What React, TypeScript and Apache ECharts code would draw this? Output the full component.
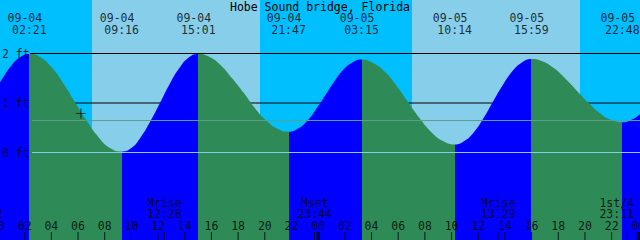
import React, { useEffect, useRef } from "react";
import * as echarts from "echarts";

// ---------- data ----------
const TITLE = "Hobe Sound bridge, Florida";

const tideDates = ["09-04", "09-04", "09-04", "09-04", "09-05", "09-05", "09-05", "09-05"];
const tideTimes = ["02:21", "09:16", "15:01", "21:47", "03:15", "10:14", "15:59", "22:48"];
const tideKinds = ["H", "L", "H", "L", "H", "L", "H", "L"];

// curve samples: hours since 09-04 00:00, height in feet
const curveHours = [
  -1.0, -0.33, 0.34, 1.01, 1.68, 2.35,
  3.21, 4.08, 4.94, 5.81, 6.67, 7.54, 8.4, 9.27,
  9.99, 10.7, 11.42, 12.14, 12.86, 13.58, 14.3, 15.02,
  15.86, 16.71, 17.55, 18.4, 19.25, 20.09, 20.94, 21.78,
  22.47, 23.15, 23.83, 24.52, 25.2, 25.88, 26.57, 27.25,
  28.12, 29.0, 29.87, 30.74, 31.61, 32.49, 33.36, 34.23,
  34.95, 35.67, 36.39, 37.11, 37.83, 38.55, 39.27, 39.98,
  40.84, 41.69, 42.54, 43.39, 44.24, 45.1, 45.95, 46.8,
  47.49, 48.18, 48.86,
];
const curveFeet = [
  0.89, 1.2, 1.5, 1.76, 1.93, 1.99,
  1.92, 1.7, 1.38, 1.0, 0.63, 0.31, 0.09, 0.02,
  0.09, 0.31, 0.63, 1.0, 1.38, 1.7, 1.92, 1.99,
  1.93, 1.76, 1.5, 1.21, 0.9, 0.65, 0.48, 0.42,
  0.48, 0.63, 0.87, 1.15, 1.43, 1.67, 1.82, 1.88,
  1.81, 1.63, 1.35, 1.02, 0.69, 0.41, 0.23, 0.16,
  0.23, 0.41, 0.69, 1.03, 1.36, 1.64, 1.82, 1.89,
  1.84, 1.7, 1.49, 1.25, 1.01, 0.8, 0.66, 0.61,
  0.66, 0.79, 0.98,
];

const sunriseAt = ["09-04 07:03", "09-05 07:02"];
const sunsetAt = ["09-04 19:38", "09-05 19:38"];

const moonDates = ["09-03", "09-04", "09-04", "09-05", "09-05"];
const moonNames = ["Mset", "Mrise", "Mset", "Mrise", "1st/4"];
const moonTimes = ["23:02", "12:28", "23:44", "13:29", "23:11"];

const levelValues = [0, 1, 2];
const levelLabels = ["0 ft", "1 ft", "2 ft"];
const gridLevels = [1, 2];
const datumLevel = 0;
const mslLevel = 0.646;

const markAt = "09-04 06:13";
const markFeet = 0.79;

const tickHours = [0, 2, 4, 6, 8, 10, 12, 14, 16, 18, 20, 22, 24, 26, 28, 30, 32, 34, 36, 38, 40, 42, 44, 46, 48];
const tickLabels = ["00", "02", "04", "06", "08", "10", "12", "14", "16", "18", "20", "22", "00", "02", "04", "06", "08", "10", "12", "14", "16", "18", "20", "22", "00"];

// ---------- layout ----------
const W = 640;
const H = 240;
const PX_PER_H = 13.34;
const X_SHIFT = 2;
const PX_PER_FT = 49.5;
const ZERO_Y = 152.5;
const xMin = X_SHIFT / PX_PER_H;
const xMax = (W + X_SHIFT) / PX_PER_H;
const yMax = ZERO_Y / PX_PER_FT;
const yMin = -(H - ZERO_Y) / PX_PER_FT;
const LINE_START_H = (30 + X_SHIFT) / PX_PER_H;
const FONT = "'DejaVu Sans Mono', monospace";
const FS = 11.5;
const CHAR_W = FS * 0.602;

const NIGHT = "#00BFFF";
const DAY = "#87CEEB";
const RISE = "#0000FF";
const FALL = "#2E8B57";

function toHours(date: string, time: string) {
  const day = parseInt(date.slice(3), 10);
  const [hh, mm] = time.split(":").map(Number);
  return (day - 4) * 24 + hh + mm / 60;
}
const splitHours = (s: string) => {
  const [d, t] = s.split(" ");
  return toHours(d, t);
};

function buildOption() {
  const tideHours = tideDates.map((d, i) => toHours(d, tideTimes[i]));
  const pieces: any[] = [];
  for (let i = 0; i <= tideHours.length; i++) {
    const p: any = {};
    if (i > 0) p.gte = tideHours[i - 1];
    if (i < tideHours.length) p.lt = tideHours[i];
    const rising = i < tideHours.length ? tideKinds[i] === "H" : tideKinds[i - 1] === "L";
    p.color = rising ? RISE : FALL;
    pieces.push(p);
  }
  const days = sunriseAt.map((s, i) => [splitHours(s), splitHours(sunsetAt[i])]);
  const moonHours = moonDates.map((d, i) => toHours(d, moonTimes[i]));
  const moonShift = moonHours.map((h, i) => {
    const px = h * PX_PER_H - X_SHIFT;
    const half = (Math.max(moonNames[i].length, moonTimes[i].length) * CHAR_W) / 2;
    return Math.min(0, W - 6 - (px + half));
  });

  const text = { fontFamily: FONT, fontSize: FS, color: "#000", lineHeight: 12 };
  const labelScatter = (data: any[], formatter: (p: any) => string, position: string, distance: number, extra: any = {}) => ({
    type: "scatter",
    z: 5,
    silent: true,
    clip: false,
    symbolSize: 1,
    itemStyle: { color: "rgba(0,0,0,0)" },
    data,
    label: { show: true, position, distance, formatter, ...text, ...extra },
  });

  const series: any[] = [];
  series.push({
    type: "custom",
    z: 0,
    silent: true,
    clip: false,
    data: days,
    renderItem: (_p: any, api: any) => {
      const a = api.coord([api.value(0), yMax]);
      const b = api.coord([api.value(1), yMin]);
      const x0 = Math.round(a[0]);
      const x1 = Math.round(b[0]);
      return { type: "rect", shape: { x: x0, y: a[1], width: x1 - x0, height: b[1] - a[1] }, style: { fill: DAY } };
    },
  });
  gridLevels.forEach((lv) => {
    series.push({
      type: "line",
      z: 1,
      silent: true,
      symbol: "none",
      data: [[LINE_START_H, lv], [xMax, lv]],
      lineStyle: { color: "#000", width: 1 },
    });
  });
  const tideIndex = series.length;
  series.push({
    type: "line",
    z: 2,
    silent: true,
    smooth: true,
    symbol: "none",
    data: curveHours.map((h, i) => [h, curveFeet[i]]),
    lineStyle: { width: 0 },
    areaStyle: { origin: "start", opacity: 1 },
  });
  [
    [datumLevel, "#87CEEB"],
    [mslLevel, "#5E9F8B"],
  ].forEach(([lv, c]) => {
    series.push({
      type: "line",
      z: 3,
      silent: true,
      symbol: "none",
      data: [[LINE_START_H + 2 / PX_PER_H, lv], [xMax, lv]],
      lineStyle: { color: c, width: 1 },
    });
  });
  series.push({
    type: "scatter",
    z: 4,
    silent: true,
    symbol: "path://M5,0h1v5h5v1h-5v5h-1v-5h-5v-1h5z",
    symbolSize: 10,
    itemStyle: { color: "#000" },
    data: [[splitHours(markAt), markFeet]],
  });
  // level labels
  series.push(labelScatter(levelValues.map((v) => [xMin, v]), (p) => levelLabels[p.dataIndex], "right", 1.5));
  // tide event labels
  series.push(labelScatter(tideHours.map((h) => [h, yMax]), (p) => tideDates[p.dataIndex], "bottom", 11.5, { offset: [-4.5, 0] }));
  series.push(labelScatter(tideHours.map((h) => [h, yMax]), (p) => tideTimes[p.dataIndex], "bottom", 23.5));
  // hour ticks
  series.push({
    type: "scatter",
    z: 5,
    silent: true,
    clip: false,
    symbol: "rect",
    symbolSize: (v: number[]) => (v[0] % 24 === 0 ? [3, 8] : [1, 8]),
    symbolOffset: [0, -4],
    itemStyle: { color: "#000" },
    data: tickHours.map((h) => [h, yMin]),
  });
  series.push(labelScatter(tickHours.map((h) => [h, yMin]), (p) => tickLabels[p.dataIndex], "top", 8));
  // moon ticks and labels
  series.push({
    type: "scatter",
    z: 5,
    silent: true,
    clip: false,
    symbol: "rect",
    symbolSize: [1, 8],
    symbolOffset: [0, -4],
    itemStyle: { color: "#000" },
    data: moonHours.map((h) => [h, yMin]),
  });
  series.push(
    labelScatter(
      moonHours.map((h, i) => ({ value: [h, yMin], label: { offset: [moonShift[i], -20] } })),
      (p) => `${moonNames[p.dataIndex]}\n${moonTimes[p.dataIndex]}`,
      "top",
      0,
      { lineHeight: 11, align: "center" }
    )
  );

  return {
    animation: false,
    backgroundColor: NIGHT,
    grid: { left: 0, right: 0, top: 0, bottom: 0, containLabel: false },
    xAxis: { type: "value", min: xMin, max: xMax, show: false },
    yAxis: { type: "value", min: yMin, max: yMax, show: false },
    visualMap: { type: "piecewise", show: false, dimension: 0, seriesIndex: tideIndex, pieces },
    graphic: [
      {
        type: "text",
        x: W / 2,
        y: 6.5,
        z: 10,
        style: { text: TITLE, font: `${FS}px ${FONT}`, fill: "#000", textAlign: "center", textVerticalAlign: "middle" },
      },
    ],
    series,
  };
}

export default function App() {
  const ref = useRef<HTMLDivElement>(null);
  useEffect(() => {
    if (!ref.current) return;
    const chart = echarts.init(ref.current, null, { renderer: "svg" });
    chart.setOption(buildOption() as any);
    return () => chart.dispose();
  }, []);
  return <div ref={ref} style={{ position: "absolute", left: 0, top: 0, width: W, height: H }} />;
}
